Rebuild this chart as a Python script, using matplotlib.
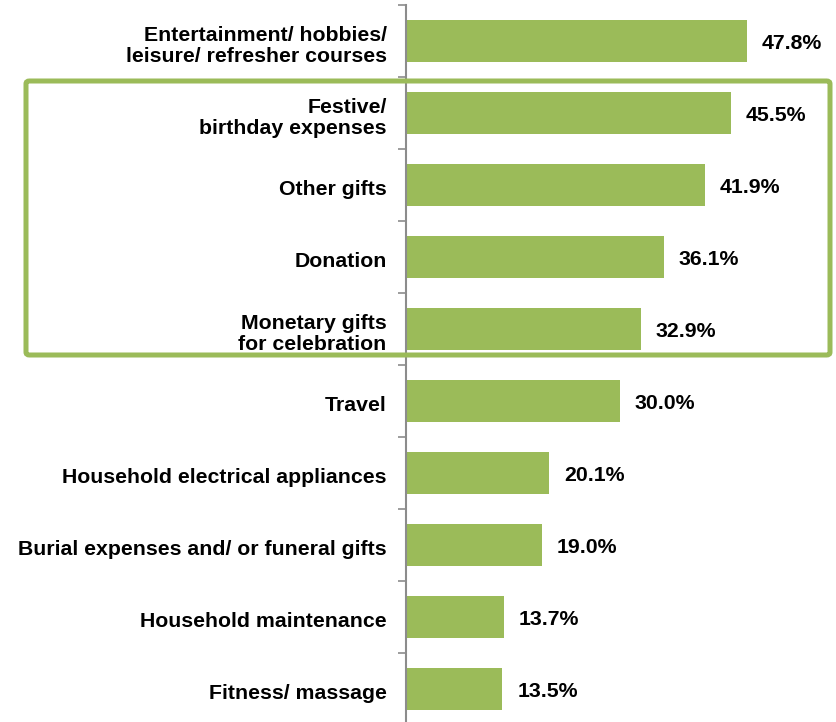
import numpy as np
import matplotlib.pyplot as plt
from matplotlib.patches import FancyBboxPatch

plt.rcParams['font.family'] = ['Liberation Sans', 'DejaVu Sans']

categories = ['Entertainment/ hobbies/\nleisure/ refresher courses',
              'Festive/\nbirthday expenses',
              'Other gifts',
              'Donation',
              'Monetary gifts\nfor celebration',
              'Travel',
              'Household electrical appliances',
              'Burial expenses and/ or funeral gifts',
              'Household maintenance',
              'Fitness/ massage']
shares = [47.8, 45.5, 41.9, 36.1, 32.9, 30.0, 20.1, 19.0, 13.7, 13.5]

green = '#9BBB59'
W, H = 836, 722
fs = 15.3

fig = plt.figure(figsize=(W / 100, H / 100), dpi=100)
# axis runs from x=406px, category boundaries every 72px starting at y=5px
ax = fig.add_axes([406 / W, 1 - 725 / H, 428 / W, 720 / H])

y = np.arange(len(categories))
ax.barh(y, shares, height=0.57, color=green)
for yi, v in zip(y, shares):
    ax.text(v + 2.1, yi + 0.04, f'{v:.1f}%', va='center', ha='left',
            fontsize=fs, fontweight='bold')

ax.set_xlim(0, 60)
ax.set_ylim(len(categories) - 0.5, -0.5)
ax.set_xticks([])
ax.set_yticks(y + 0.03)
ax.set_yticklabels(categories, fontsize=fs, fontweight='bold', linespacing=1.1)
ax.tick_params(axis='y', which='major', length=0, pad=14)
ax.set_yticks(np.arange(-0.5, len(categories) + 0.5), minor=True)
ax.tick_params(axis='y', which='minor', length=6, width=1.2, color='#8c8c8c')
for s in ['top', 'right', 'bottom']:
    ax.spines[s].set_visible(False)
ax.spines['left'].set_color('#8c8c8c')
ax.spines['left'].set_linewidth(1.5)

# highlight box around the gift-related items
box = FancyBboxPatch((26 / W, 1 - 355 / H), 804 / W, 274 / H,
                     boxstyle='round,pad=0,rounding_size=0.004',
                     transform=fig.transFigure, fill=False,
                     edgecolor=green, linewidth=3.6, clip_on=False)
fig.patches.append(box)

fig.savefig('out.png', dpi=100)
